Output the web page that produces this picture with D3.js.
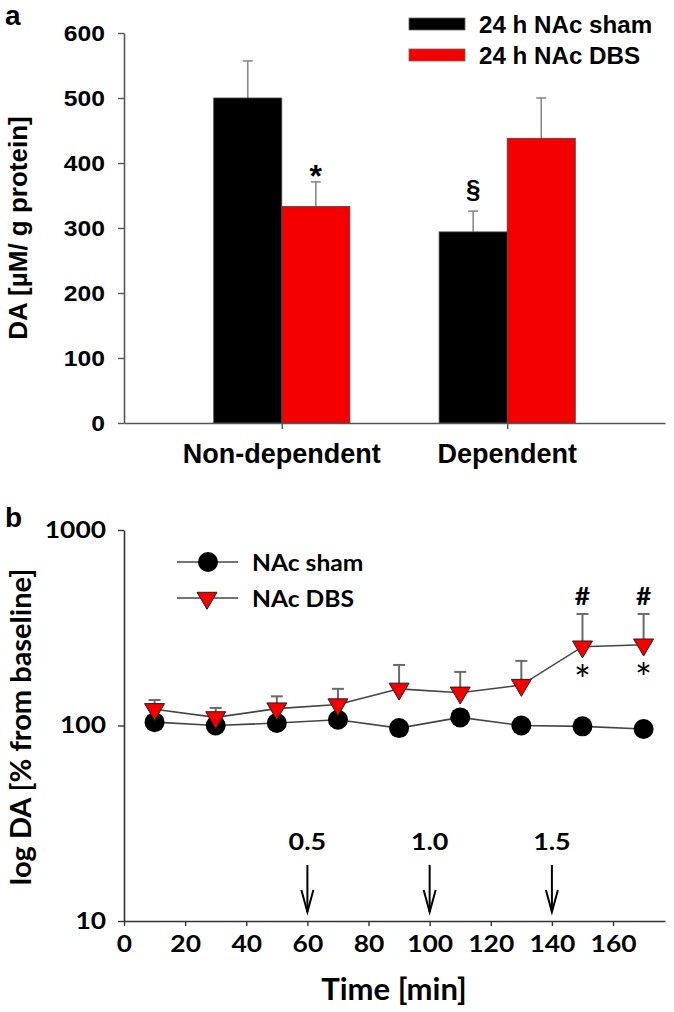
<!DOCTYPE html>
<html><head><meta charset="utf-8">
<script src="https://cdn.jsdelivr.net/npm/d3@7"></script>
<style>body{margin:0;background:#fff}svg{display:block;background:#fff}</style>
</head><body>
<svg id="c" width="674" height="1012"></svg>
<script>
// ---------- Panel a data ----------
const categories = ["Non-dependent", "Dependent"];
const seriesA = ["24 h NAc sham", "24 h NAc DBS"];
const shamMean = [500, 294];
const shamSem = [57, 32];
const dbsMean = [333, 438];
const dbsSem = [38, 62];
const yTicksA = [0, 100, 200, 300, 400, 500, 600];
const sigA = [{series: 1, cat: 0, label: "*"}, {series: 0, cat: 1, label: "§"}];

// ---------- Panel b data ----------
const times = [10, 30, 50, 70, 90, 110, 130, 150, 170];
const shamPct = [104, 100, 103, 107, 97, 110, 100, 99, 96];
const dbsPct = [121, 110, 122, 128, 154, 147, 161, 253, 259];
const dbsPctSem = [14, 13, 19, 26, 50, 41, 53, 119, 113];
const seriesB = ["NAc sham", "NAc DBS"];
const xTicksB = [0, 20, 40, 60, 80, 100, 120, 140, 160];
const yTicksB = [10, 100, 1000];
const arrowTimes = [60, 100, 140];
const arrowLabels = ["0.5", "1.0", "1.5"];
const sigTimesB = [150, 170];

const ARIAL = "'Liberation Sans', Arial, sans-serif";
const CALI = "Lato, 'Open Sans', sans-serif";
const RED = "#f40000";

// widen glyphs horizontally (reference is slightly stretched)
function stretch(sel, k) {
  sel.each(function () {
    const w = this.getComputedTextLength();
    d3.select(this).attr("textLength", w * k).attr("lengthAdjust", "spacingAndGlyphs");
  });
  return sel;
}

const svg = d3.select("#c");

// ================= Panel a =================
const xa = d3.scalePoint().domain(categories).range([124, 665]).padding(0.7);
const ya = d3.scaleLinear().domain([0, 600]).range([423, 33]);
const bw = xa.step() * 0.302;

const ga = svg.append("g");

const barData = [];
categories.forEach((c, i) => {
  barData.push({cat: c, s: 0, v: shamMean[i], e: shamSem[i]});
  barData.push({cat: c, s: 1, v: dbsMean[i], e: dbsSem[i]});
});
const fills = ["#000", RED];

const eb = ga.append("g").attr("stroke", "#8a8a8a").attr("stroke-width", 1.6);
barData.forEach(d => {
  const cx = d.s === 0 ? xa(d.cat) - bw / 2 : xa(d.cat) + bw / 2;
  eb.append("line").attr("x1", cx).attr("x2", cx).attr("y1", ya(d.v)).attr("y2", ya(d.v + d.e));
  eb.append("line").attr("x1", cx - 5).attr("x2", cx + 5).attr("y1", ya(d.v + d.e)).attr("y2", ya(d.v + d.e));
});

ga.selectAll("rect.bar").data(barData).join("rect")
  .attr("class", "bar")
  .attr("x", d => d.s === 0 ? xa(d.cat) - bw : xa(d.cat))
  .attr("y", d => ya(d.v))
  .attr("width", bw)
  .attr("height", d => ya(0) - ya(d.v))
  .attr("fill", d => fills[d.s])
  .attr("stroke", "#444").attr("stroke-width", 0.8);

sigA.forEach(m => {
  const d = barData.find(b => b.s === m.series && b.cat === categories[m.cat]);
  const cx = m.series === 0 ? xa(d.cat) - bw / 2 : xa(d.cat) + bw / 2;
  const top = ya(d.v + d.e);
  ga.append("text").attr("x", cx).attr("y", m.label === "*" ? top + 5 : top - 13)
    .attr("text-anchor", "middle").attr("font-family", ARIAL).attr("font-weight", "bold")
    .attr("font-size", m.label === "*" ? 32 : 26).text(m.label);
});

const axA_y = ga.append("g").attr("transform", "translate(124,0)")
  .call(d3.axisLeft(ya).tickValues(yTicksA).tickSize(6).tickSizeOuter(0).tickPadding(13));
const axA_x = ga.append("g").attr("transform", "translate(0,423)")
  .call(d3.axisBottom(xa).tickSize(6).tickSizeOuter(0).tickFormat(""));
[axA_y, axA_x].forEach(a => {
  a.select(".domain").attr("stroke", "#555").attr("stroke-width", 1.6);
  a.selectAll(".tick line").attr("stroke", "#555").attr("stroke-width", 1.4);
});
stretch(axA_y.selectAll(".tick text").attr("font-family", ARIAL).attr("font-weight", "bold")
  .attr("font-size", 22).attr("fill", "#000"), 1.12);

ga.selectAll("text.cat").data(categories).join("text").attr("class", "cat")
  .attr("x", d => xa(d)).attr("y", 463).attr("text-anchor", "middle")
  .attr("font-family", ARIAL).attr("font-weight", "bold").attr("font-size", 27).text(d => d);

ga.append("text").attr("transform", "translate(27,228) rotate(-90)").attr("text-anchor", "middle")
  .attr("font-family", ARIAL).attr("font-weight", "bold").attr("font-size", 26)
  .text("DA [µM/ g protein]");

seriesA.forEach((s, i) => {
  const y = 24 + i * 31;
  ga.append("rect").attr("x", 409).attr("y", y - 6).attr("width", 56).attr("height", 12)
    .attr("fill", fills[i]).attr("stroke", "#666").attr("stroke-width", 0.8);
  stretch(ga.append("text").attr("x", 479).attr("y", y + 8.5).attr("font-family", ARIAL)
    .attr("font-weight", "bold").attr("font-size", 23).text(s), 1.05);
});

ga.append("text").attr("x", 5).attr("y", 25).attr("font-family", ARIAL).attr("font-weight", "bold")
  .attr("font-size", 28).text("a");

// ================= Panel b =================
const xb = d3.scaleLinear().domain([0, 177]).range([124, 665]);
const yb = d3.scaleLog().domain([10, 1000]).range([921, 530]);
const gb = svg.append("g");

const axB_y = gb.append("g").attr("transform", "translate(124,0)")
  .call(d3.axisLeft(yb).tickValues(yTicksB).tickFormat(d3.format("d")).tickSize(6).tickSizeOuter(0).tickPadding(12));
const axB_x = gb.append("g").attr("transform", "translate(0,921)")
  .call(d3.axisBottom(xb).tickValues(xTicksB).tickSize(5).tickSizeOuter(0).tickPadding(10));
[axB_y, axB_x].forEach(a => {
  a.select(".domain").attr("stroke", "#333").attr("stroke-width", 1.6);
  a.selectAll(".tick line").attr("stroke", "#333").attr("stroke-width", 1.4);
  stretch(a.selectAll(".tick text").attr("font-family", CALI).attr("font-weight", "bold")
    .attr("font-size", 22).attr("fill", "#000"), 1.2);
});

arrowTimes.forEach((t, i) => {
  const x = xb(t);
  const g = gb.append("g").attr("stroke", "#000").attr("stroke-width", 2).attr("fill", "none");
  g.append("line").attr("x1", x).attr("x2", x).attr("y1", 865).attr("y2", 912);
  g.append("path").attr("d", `M${x - 6},${890} L${x},${912} L${x + 6},${890}`);
  stretch(gb.append("text").attr("x", x).attr("y", 850).attr("text-anchor", "middle")
    .attr("font-family", CALI).attr("font-weight", "bold").attr("font-size", 22).text(arrowLabels[i]), 1.22);
});

const line = d3.line().x(d => xb(d[0])).y(d => yb(d[1]));
const shamPts = times.map((t, i) => [t, shamPct[i]]);
const dbsPts = times.map((t, i) => [t, dbsPct[i]]);

const ebb = gb.append("g").attr("stroke", "#6a6a6a").attr("stroke-width", 2);
times.forEach((t, i) => {
  const x = xb(t), y0 = yb(dbsPct[i]), y1 = yb(dbsPct[i] + dbsPctSem[i]);
  ebb.append("line").attr("x1", x).attr("x2", x).attr("y1", y0).attr("y2", y1);
  ebb.append("line").attr("x1", x - 6).attr("x2", x + 6).attr("y1", y1).attr("y2", y1);
});

gb.append("path").datum(shamPts).attr("d", line).attr("fill", "none").attr("stroke", "#444").attr("stroke-width", 1.6);
gb.append("path").datum(dbsPts).attr("d", line).attr("fill", "none").attr("stroke", "#444").attr("stroke-width", 1.6);

gb.selectAll("circle.sham").data(shamPts).join("circle").attr("class", "sham")
  .attr("cx", d => xb(d[0])).attr("cy", d => yb(d[1])).attr("r", 10).attr("fill", "#000");

const tri = (x, y) => `M${x - 10},${y - 5.7} L${x + 10},${y - 5.7} L${x},${y + 11.3} Z`;
gb.selectAll("path.dbs").data(dbsPts).join("path").attr("class", "dbs")
  .attr("d", d => tri(xb(d[0]), yb(d[1]))).attr("fill", RED).attr("stroke", "#222").attr("stroke-width", 1);

sigTimesB.forEach(t => {
  const i = times.indexOf(t);
  const x = xb(t);
  stretch(gb.append("text").attr("x", x).attr("y", yb(dbsPct[i] + dbsPctSem[i]) - 9).attr("text-anchor", "middle")
    .attr("font-family", CALI).attr("font-weight", "bold").attr("font-size", 24).text("#"), 1.1);
  gb.append("text").attr("x", x).attr("y", yb(dbsPct[i]) + 48).attr("text-anchor", "middle")
    .attr("font-family", CALI).attr("font-weight", "normal").attr("font-size", 40).text("*");
});

seriesB.forEach((s, i) => {
  const y = 562 + i * 36;
  gb.append("line").attr("x1", 177).attr("x2", 238).attr("y1", y).attr("y2", y)
    .attr("stroke", "#444").attr("stroke-width", 1.6);
  if (i === 0) gb.append("circle").attr("cx", 208).attr("cy", y).attr("r", 10).attr("fill", "#000");
  else gb.append("path").attr("d", tri(207, y)).attr("fill", RED).attr("stroke", "#222").attr("stroke-width", 1);
  stretch(gb.append("text").attr("x", 252).attr("y", y + 9).attr("font-family", CALI).attr("font-weight", "bold")
    .attr("font-size", 23).text(s), 1.07);
});

gb.append("text").attr("x", 394).attr("y", 1000).attr("text-anchor", "middle")
  .attr("font-family", CALI).attr("font-weight", "bold").attr("font-size", 31).text("Time [min]");
gb.append("text").attr("transform", "translate(31,727) rotate(-90)").attr("text-anchor", "middle")
  .attr("font-family", CALI).attr("font-weight", "bold").attr("font-size", 29)
  .text("log DA [% from baseline]");

gb.append("text").attr("x", 5).attr("y", 527).attr("font-family", ARIAL).attr("font-weight", "bold")
  .attr("font-size", 28).text("b");
</script>
</body></html>
